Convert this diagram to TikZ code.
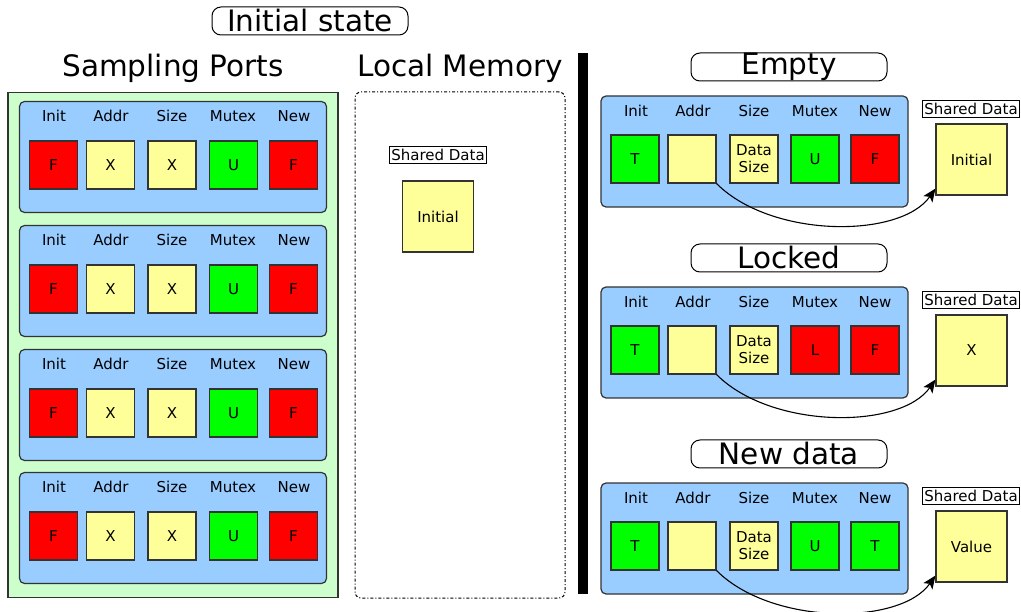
\documentclass[tikz,border=0pt]{standalone}
\usepackage{fontspec}
\setmainfont{DejaVu Sans}
\usetikzlibrary{arrows.meta}

\definecolor{edge}{HTML}{333333}
\definecolor{portblue}{HTML}{99CCFF}
\definecolor{portgreen}{HTML}{CCFFCC}
\definecolor{cellyellow}{HTML}{FFFF99}
\definecolor{cellred}{HTML}{FF0000}
\definecolor{cellgreen}{HTML}{00FF00}

\tikzset{
  title/.style={draw=black, line width=1pt, rounded corners=9pt, minimum width=196pt,
    minimum height=28pt, inner sep=0pt, font=\fontsize{29.5}{30}\selectfont},
  heading/.style={font=\fontsize{29.5}{30}\selectfont, inner sep=0pt},
  portbox/.style={draw=edge, line width=1.2pt, fill=portblue, rounded corners=5pt,
    minimum width=307pt, minimum height=111pt, inner sep=0pt},
  field/.style={font=\fontsize{15}{16}\selectfont, inner sep=0pt},
  cell/.style={draw=edge, line width=1.2pt, minimum size=48pt, inner sep=0pt,
    align=center, font=\fontsize{15}{17}\selectfont},
  red/.style={cell, fill=cellred},
  grn/.style={cell, fill=cellgreen},
  yel/.style={cell, fill=cellyellow},
  sdlabel/.style={draw=black, line width=1pt, fill=white, minimum width=97pt,
    minimum height=17pt, inner sep=0pt, font=\fontsize{15}{16}\selectfont},
  sdcell/.style={draw=edge, line width=1.2pt, fill=cellyellow, minimum size=71pt,
    inner sep=0pt, font=\fontsize{15}{16}\selectfont},
  pointer/.style={-{Stealth[length=13pt,width=11pt,inset=3pt]}, line width=1.1pt}
}

\begin{document}
\begin{tikzpicture}[x=1pt, y=-1pt]
\useasboundingbox (0,0) rectangle (1021,612);

% ---------- left half: initial state ----------
\node[title] (tinit) at (310,21) {Initial state};
\node[heading] (hsp) at (173,68) {Sampling Ports};
\node[heading] (hlm) at (460,68) {Local Memory};

\node[draw=edge, line width=1.2pt, fill=portgreen, minimum width=330pt,
  minimum height=505pt, inner sep=0pt] (ports) at (173,345) {};

\foreach \t [count=\k] in {101,225,349,472} {
  \node[portbox] (pb\k) at (173,\t+56) {};
  \node[field] (li\k) at (54,\t+15) {Init};
  \node[field] (la\k) at (111,\t+15) {Addr};
  \node[field] (ls\k) at (172,\t+15) {Size};
  \node[field] (lm\k) at (233,\t+15) {Mutex};
  \node[field] (ln\k) at (294,\t+15) {New};
  \node[red] (ci\k) at (53.5,\t+64) {F};
  \node[yel] (ca\k) at (110.5,\t+64) {X};
  \node[yel] (cs\k) at (172,\t+64) {X};
  \node[grn] (cm\k) at (233.5,\t+64) {U};
  \node[red] (cn\k) at (293.5,\t+64) {F};
}

\node[draw=black, line width=1pt, dash dot, rounded corners=6pt, minimum width=210pt,
  minimum height=506pt, inner sep=0pt] (mem) at (460,345) {};
\node[sdlabel] (sd0) at (438,155) {Shared Data};
\node[sdcell] (sv0) at (438,216.5) {Initial};

% ---------- separator ----------
\fill (578,53) rectangle (588,594);

% ---------- right half: the three port states ----------
\foreach \top/\name/\ini/\iv/\mut/\mv/\nw/\nv/\data [count=\k] in {
    96/Empty/grn/T/grn/U/red/F/Initial,
    287/Locked/grn/T/red/L/red/F/X,
    483/New data/grn/T/grn/U/grn/T/Value} {
  \node[title] (ts\k) at (789,\top-29) {\name};
  \node[portbox] (rb\k) at (754.5,\top+55.5) {};
  \node[field] (ri\k) at (636,\top+15) {Init};
  \node[field] (ra\k) at (693,\top+15) {Addr};
  \node[field] (rs\k) at (754,\top+15) {Size};
  \node[field] (rm\k) at (815,\top+15) {Mutex};
  \node[field] (rn\k) at (875,\top+15) {New};
  \node[\ini] (si\k) at (635,\top+63) {\iv};
  \node[yel] (sa\k) at (692,\top+63) {};
  \node[yel] (ss\k) at (754,\top+63) {Data\\Size};
  \node[\mut] (sm\k) at (815,\top+63) {\mv};
  \node[\nw] (sn\k) at (875,\top+63) {\nv};
  \node[sdlabel] (sd\k) at (971,\top+13) {Shared Data};
  \node[sdcell] (sv\k) at (971.5,\top+63.5) {\data};
  \coordinate (tip\k) at ([yshift=7pt]sv\k.south west);
  \draw[pointer] (sa\k.south east) .. controls +(55,55) and +(-35,50) .. (tip\k);
}
\end{tikzpicture}
\end{document}
